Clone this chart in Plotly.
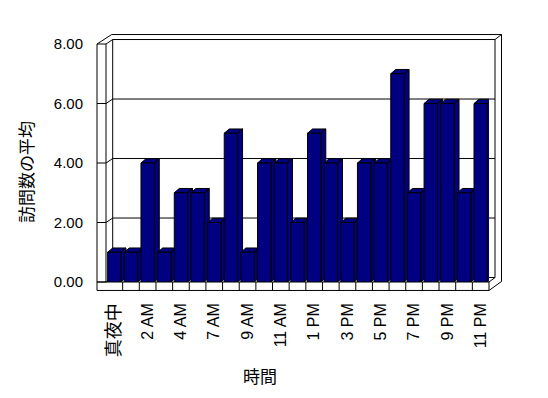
import plotly.graph_objects as go

# ---------------- data ----------------
categories = ["真夜中", "1 AM", "2 AM", "3 AM", "4 AM", "6 AM", "7 AM", "8 AM", "9 AM",
              "10 AM", "11 AM", "正午", "1 PM", "2 PM", "3 PM", "4 PM", "5 PM", "6 PM",
              "7 PM", "8 PM", "9 PM", "10 PM", "11 PM"]
values = [1, 1, 4, 1, 3, 3, 2, 5, 1, 4, 4, 2, 5, 4, 2, 4, 4, 7, 3, 6, 6, 3, 6]
y_ticks = [0, 2, 4, 6, 8]
y_tick_labels = ["0.00", "2.00", "4.00", "6.00", "8.00"]
y_title = "訪問数の平均"
x_title = "時間"

# ---------------- geometry (pixels) ----------------
W, H = 548, 398
L, R, T, B = 106, 489, 43.5, 282.5
NAVY = "#000080"
n = len(categories)
xr = [-0.5, n - 0.5]
yr = [0, 8]

def px(x):
    return (x - L) / (R - L)

def py(y):
    return (B - y) / (B - T)

def ypix(v):
    return B - (B - T) * (v - yr[0]) / (yr[1] - yr[0])

shapes = []
def seg(p0, p1):
    shapes.append(dict(type="line", xref="paper", yref="paper",
                       x0=px(p0[0]), y0=py(p0[1]), x1=px(p1[0]), y1=py(p1[1]),
                       line=dict(color="black", width=1), layer="below"))

OUT_L = 97
WDX, WDY = 6.7, -4.5
BACK_R = 495
OUT_R = 501.5
FLOOR_B = 291

# side wall / back wall gridlines
for v in y_ticks:
    yf = ypix(v)
    seg((OUT_L, yf), (L, yf))
    seg((L, yf), (L + WDX, yf + WDY))
    seg((L + WDX, yf + WDY), (BACK_R, yf + WDY))

seg((OUT_L, T), (OUT_L, FLOOR_B))
seg((L, T), (L, B))
seg((OUT_L, T), (111.7, 34))
seg((111.7, 34), (OUT_R, 34))
seg((BACK_R, T + WDY), (OUT_R, 34))
seg((OUT_R, 34), (OUT_R, 282))
seg((OUT_R, 282), (R, FLOOR_B))
seg((BACK_R, T + WDY), (BACK_R, B + WDY))
seg((BACK_R, B + WDY), (R, B))
seg((L + WDX, T + WDY), (L + WDX, B + WDY))
seg((OUT_L, B), (R, B))
seg((OUT_L, FLOOR_B), (R, FLOOR_B))
seg((R, B), (R, FLOOR_B))
# floor dividers at category boundaries
for k in range(1, n):
    shapes.append(dict(type="line", xref="x", yref="paper",
                       x0=k - 0.5, x1=k - 0.5, y0=py(B), y1=py(FLOOR_B),
                       line=dict(color="black", width=1), layer="below"))

fig = go.Figure()

# 3D side and top faces of bars (drawn on base axes, beneath front faces)
bw = 0.8
dxb = 5.0 / ((R - L) / n)
dyb = 4.3 / ((B - T) / (yr[1] - yr[0]))
for i, v in enumerate(values):
    xl, xrr = i - bw / 2, i + bw / 2
    xs = [xrr, xrr + dxb, xrr + dxb, xrr, xrr, None,
          xl, xl + dxb, xrr + dxb, xrr, xl]
    ys = [0, dyb, v + dyb, v, 0, None,
          v, v + dyb, v + dyb, v, v]
    fig.add_trace(go.Scatter(x=xs, y=ys, mode="lines", fill="toself",
                             fillcolor=NAVY, line=dict(color="black", width=1),
                             hoverinfo="skip", showlegend=False,
                             xaxis="x", yaxis="y"))

# front faces of bars
fig.add_trace(go.Bar(x=list(range(n)), y=values, width=bw,
                     marker=dict(color=NAVY, line=dict(color="black", width=1)),
                     showlegend=False, xaxis="x2", yaxis="y2"))

tick_idx = list(range(0, n, 2))
tick_text = []
for i in tick_idx:
    c = categories[i]
    if any(ord(ch) > 0x2E80 for ch in c):
        tick_text.append('<span style="font-size:18px;fill:black;color:black">' + c + '</span>')
    else:
        tick_text.append(c)

fig.update_layout(
    width=W, height=H,
    margin=dict(l=L, r=W - R, t=T, b=H - B, pad=0),
    paper_bgcolor="white", plot_bgcolor="rgba(0,0,0,0)",
    font=dict(family="Liberation Sans, Arial, Noto Sans CJK JP", size=15, color="black"),
    showlegend=False,
    bargap=0.2,
    shapes=shapes,
    xaxis=dict(range=xr, tickmode="array", tickvals=tick_idx, ticktext=tick_text,
               tickangle=-90, showgrid=False, zeroline=False, showline=False,
               ticks="", ticklabelstandoff=17,
               tickfont=dict(size=16, color="black", family="Liberation Sans, Noto Sans CJK JP")),
    yaxis=dict(range=yr, tickmode="array", tickvals=y_ticks, ticktext=y_tick_labels,
               showgrid=False, zeroline=False, showline=False, ticks="",
               ticklabelstandoff=22,
               tickfont=dict(size=15, color="black", family="Liberation Sans")),
    xaxis2=dict(range=xr, overlaying="x", visible=False),
    yaxis2=dict(range=yr, overlaying="y", visible=False),
    annotations=[
        dict(text=y_title, xref="paper", yref="paper", x=px(26), y=py(172),
             xanchor="center", yanchor="middle",
             showarrow=False, textangle=-90,
             font=dict(family="Noto Sans CJK JP", size=17, color="black")),
        dict(text=x_title, xref="paper", yref="paper", x=px(260), y=py(376),
             xanchor="center", yanchor="middle",
             showarrow=False,
             font=dict(family="Noto Sans CJK JP", size=17, color="black")),
    ],
)

fig.write_html("out.html", config={"displayModeBar": False},
               post_script="document.body.style.margin='0';")
